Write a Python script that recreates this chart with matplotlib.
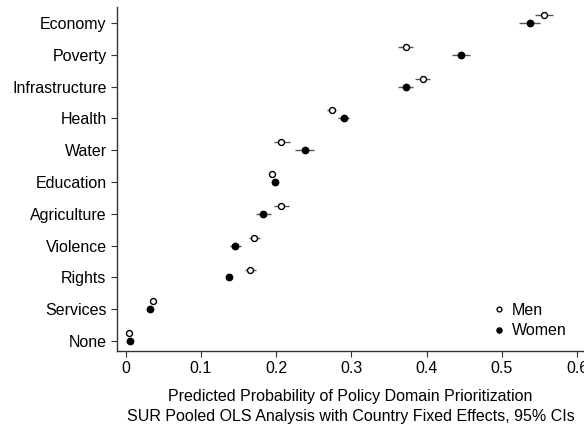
import matplotlib
matplotlib.use("Agg")
import matplotlib.pyplot as plt
import numpy as np

plt.rcParams['font.family'] = ['Liberation Sans', 'DejaVu Sans']

# categories, top to bottom
domains = ["Economy", "Poverty", "Infrastructure", "Health", "Water", "Education",
           "Agriculture", "Violence", "Rights", "Services", "None"]

men = [0.556, 0.372, 0.395, 0.274, 0.207, 0.195, 0.207, 0.171, 0.166, 0.037, 0.005]
men_lo = [0.544, 0.362, 0.385, 0.267, 0.197, 0.192, 0.197, 0.164, 0.159, 0.035, 0.003]
men_hi = [0.568, 0.382, 0.405, 0.280, 0.218, 0.198, 0.217, 0.178, 0.173, 0.039, 0.007]

women = [0.537, 0.446, 0.372, 0.290, 0.238, 0.199, 0.183, 0.146, 0.137, 0.032, 0.006]
women_lo = [0.523, 0.434, 0.362, 0.282, 0.225, 0.195, 0.173, 0.139, 0.133, 0.030, 0.004]
women_hi = [0.551, 0.457, 0.382, 0.297, 0.250, 0.203, 0.193, 0.154, 0.142, 0.034, 0.008]

xticks = [0, 0.1, 0.2, 0.3, 0.4, 0.5, 0.6]

fig = plt.figure(figsize=(5.84, 4.28), dpi=100)
ax = fig.add_axes([117/584, 1 - 351/428, 1 - 117/584, (351 - 7)/428])

ypos = np.arange(len(domains))[::-1]
off = 0.25

men = np.array(men); women = np.array(women)
ax.errorbar(men, ypos + off,
            xerr=[men - np.array(men_lo), np.array(men_hi) - men],
            fmt='o', mfc='white', mec='black', mew=1.0, ms=4.3,
            ecolor='#555555', elinewidth=1, capsize=0, label='Men', zorder=3)
ax.errorbar(women, ypos,
            xerr=[women - np.array(women_lo), np.array(women_hi) - women],
            fmt='o', mfc='black', mec='black', ms=4.6,
            ecolor='#555555', elinewidth=1, capsize=0, label='Women', zorder=3)

ax.set_yticks(ypos)
ax.set_yticklabels(domains, fontsize=11.5)
ax.set_xticks(xticks)
ax.set_xticklabels([("%g" % t) for t in xticks], fontsize=11.5)
ax.set_xlim(-0.0113, 0.609)
ax.set_ylim(-0.31, len(domains) - 0.5)

for s in ['top', 'right']:
    ax.spines[s].set_visible(False)
for s in ['left', 'bottom']:
    ax.spines[s].set_color('#333333')
    ax.spines[s].set_linewidth(1)
ax.tick_params(direction='out', length=4.5, color='#333333', pad=3)

ax.set_xlabel("Predicted Probability of Policy Domain Prioritization\n"
              "SUR Pooled OLS Analysis with Country Fixed Effects, 95% CIs",
              fontsize=11.5, labelpad=9, linespacing=1.4)

handles, labels = ax.get_legend_handles_labels()
handles = [h[0] for h in handles]
leg = ax.legend(handles, labels, loc='lower right', frameon=False, fontsize=11.5,
                handlelength=0.8, handletextpad=0.4, borderaxespad=0.4,
                labelspacing=0.35, markerscale=0.8, bbox_to_anchor=(0.99, 0.0))

fig.savefig("out.png", dpi=100)
